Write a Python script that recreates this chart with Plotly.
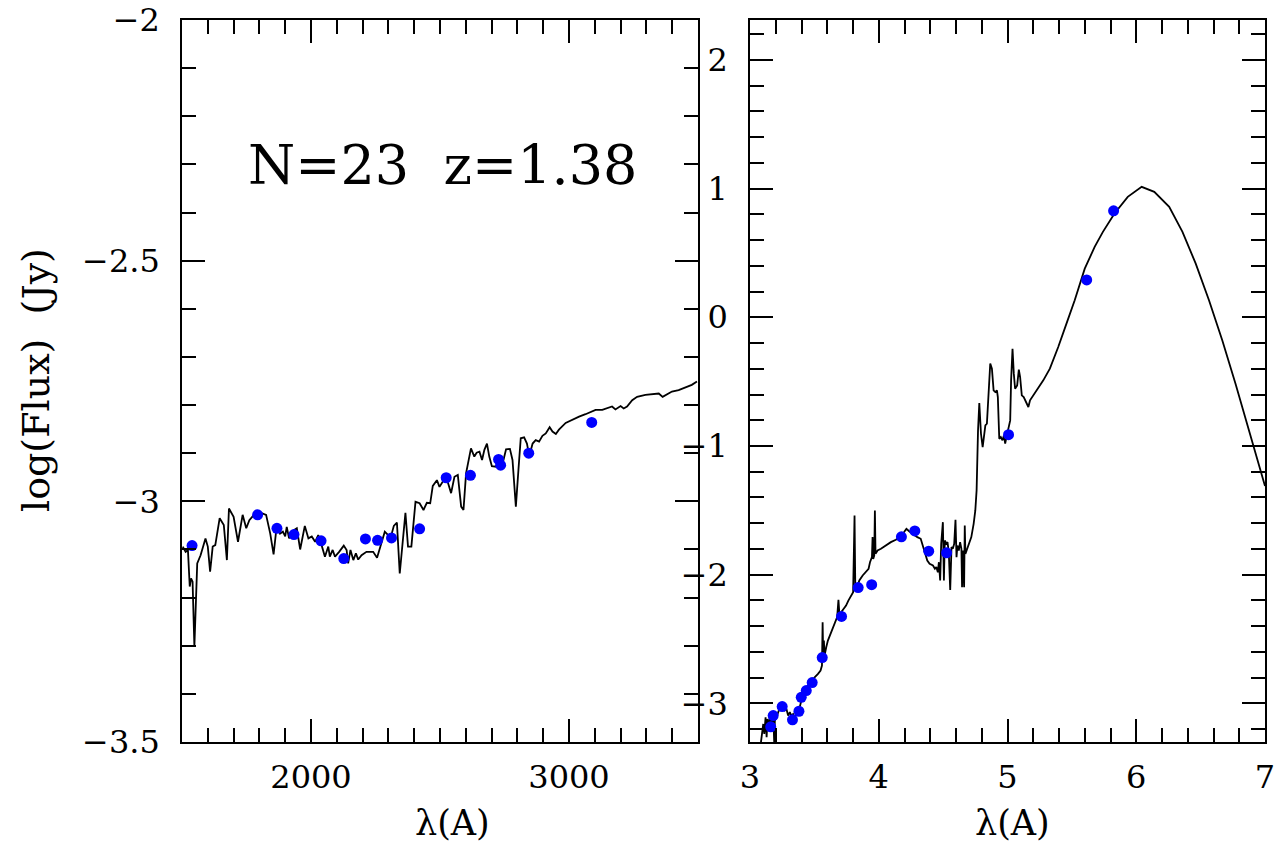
import plotly.graph_objects as go

# ---- left panel: observed-frame wavelength (Angstrom) vs log flux ----
left_model = [
    (1503, -3.094), (1514, -3.105), (1523, -3.101), (1530, -3.177), (1535, -3.160),
    (1541, -3.167), (1548, -3.302), (1559, -3.129), (1572, -3.112), (1591, -3.077),
    (1600, -3.094), (1609, -3.146), (1619, -3.094), (1629, -3.091), (1646, -3.035),
    (1662, -3.049), (1674, -3.122), (1682, -3.015), (1700, -3.032), (1717, -3.084),
    (1735, -3.028), (1749, -3.056), (1761, -3.039), (1784, -3.025), (1797, -3.022),
    (1826, -3.028), (1842, -3.067), (1855, -3.110), (1868, -3.047), (1880, -3.067),
    (1891, -3.063), (1900, -3.073), (1906, -3.053), (1915, -3.077), (1925, -3.063),
    (1945, -3.056), (1958, -3.100), (1976, -3.051), (1990, -3.077), (2003, -3.073),
    (2016, -3.084), (2028, -3.070), (2041, -3.091), (2054, -3.115), (2067, -3.094),
    (2073, -3.115), (2084, -3.101), (2093, -3.115), (2109, -3.105), (2127, -3.092),
    (2138, -3.101), (2144, -3.129), (2153, -3.101), (2164, -3.122), (2174, -3.108),
    (2183, -3.121), (2196, -3.112), (2215, -3.105), (2241, -3.105), (2256, -3.117),
    (2269, -3.094), (2286, -3.063), (2299, -3.070), (2308, -3.077), (2321, -3.051),
    (2333, -3.044), (2344, -3.150), (2357, -3.077), (2366, -3.024), (2376, -3.094),
    (2389, -3.094), (2405, -3.001), (2421, -3.004), (2436, -3.018), (2449, -3.003),
    (2462, -3.004), (2472, -2.968), (2488, -2.956), (2498, -2.970), (2511, -2.959),
    (2524, -2.949), (2543, -2.983), (2556, -2.949), (2569, -2.945), (2582, -3.011),
    (2591, -3.018), (2601, -2.942), (2620, -2.890), (2633, -2.907), (2642, -2.899),
    (2653, -2.897), (2663, -2.914), (2672, -2.893), (2682, -2.880), (2691, -2.907),
    (2701, -2.927), (2717, -2.928), (2730, -2.907), (2743, -2.921), (2756, -2.892),
    (2771, -2.891), (2781, -2.914), (2794, -3.011), (2804, -2.935), (2813, -2.869),
    (2826, -2.867), (2837, -2.880), (2846, -2.906), (2859, -2.880), (2871, -2.873),
    (2884, -2.876), (2897, -2.864), (2910, -2.859), (2925, -2.846), (2936, -2.855),
    (2949, -2.860), (2961, -2.851), (2987, -2.837), (3013, -2.830), (3039, -2.824),
    (3064, -2.819), (3090, -2.814), (3103, -2.810), (3129, -2.810), (3148, -2.807),
    (3167, -2.803), (3180, -2.809), (3200, -2.802), (3212, -2.807), (3225, -2.803),
    (3245, -2.790), (3264, -2.783), (3296, -2.779), (3335, -2.776), (3348, -2.776),
    (3363, -2.783), (3380, -2.777), (3399, -2.772), (3425, -2.769), (3451, -2.763),
    (3476, -2.758), (3496, -2.751),
]
left_phot_wave = [1539, 1793, 1868, 1934, 2039, 2127, 2211, 2258, 2312, 2421,
                  2524, 2618, 2727, 2735, 2844, 3088]
left_phot_flux = [-3.092, -3.028, -3.056, -3.069, -3.082, -3.119, -3.078, -3.081,
                  -3.076, -3.057, -2.951, -2.946, -2.913, -2.925, -2.900, -2.836]

# ---- right panel: log wavelength vs log flux, full SED ----
right_model = [
    (3.085, -3.302), (3.103, -3.160), (3.111, -3.237), (3.121, -3.108), (3.129, -3.263),
    (3.136, -3.121), (3.147, -3.212), (3.154, -3.095), (3.167, -3.160), (3.180, -3.082),
    (3.188, -3.302), (3.193, -3.134), (3.206, -3.108), (3.219, -3.069), (3.232, -3.030),
    (3.245, -3.017), (3.257, -3.043), (3.270, -3.056), (3.283, -3.043), (3.296, -3.095),
    (3.309, -3.069), (3.322, -3.095), (3.335, -3.082), (3.347, -3.108), (3.360, -3.082),
    (3.373, -3.069), (3.386, -3.030), (3.399, -2.978), (3.412, -2.952), (3.420, -2.913),
    (3.430, -2.888), (3.440, -2.926), (3.451, -2.862), (3.463, -2.849), (3.476, -2.828),
    (3.502, -2.797), (3.528, -2.771), (3.548, -2.745), (3.559, -2.706), (3.564, -2.369),
    (3.569, -2.667), (3.574, -2.512), (3.579, -2.628), (3.584, -2.589), (3.592, -2.564),
    (3.605, -2.512), (3.625, -2.460), (3.644, -2.408), (3.662, -2.369), (3.677, -2.330),
    (3.687, -2.195), (3.695, -2.317), (3.708, -2.291), (3.728, -2.265), (3.746, -2.240),
    (3.764, -2.201), (3.785, -2.162), (3.801, -2.136), (3.812, -1.540), (3.818, -2.123),
    (3.837, -2.084), (3.849, -2.045), (3.875, -2.006), (3.901, -1.980), (3.921, -1.954),
    (3.932, -1.903), (3.947, -1.864), (3.952, -1.708), (3.957, -1.877), (3.965, -1.851),
    (3.970, -1.501), (3.975, -1.838), (3.991, -1.812), (4.017, -1.799), (4.055, -1.773),
    (4.094, -1.747), (4.133, -1.729), (4.171, -1.703), (4.197, -1.669), (4.215, -1.643),
    (4.236, -1.662), (4.261, -1.682), (4.300, -1.708), (4.326, -1.721), (4.338, -1.760),
    (4.351, -1.812), (4.364, -1.851), (4.377, -1.890), (4.395, -1.916), (4.421, -1.929),
    (4.436, -1.954), (4.447, -1.941), (4.459, -1.980), (4.467, -1.903), (4.477, -2.045),
    (4.485, -1.760), (4.498, -1.592), (4.506, -2.045), (4.513, -1.734), (4.524, -1.760),
    (4.534, -1.747), (4.544, -1.825), (4.555, -2.118), (4.565, -1.786), (4.575, -1.799),
    (4.586, -1.760), (4.596, -1.573), (4.604, -1.864), (4.611, -1.773), (4.622, -1.812),
    (4.632, -1.747), (4.642, -1.799), (4.647, -2.097), (4.652, -1.812), (4.663, -2.097),
    (4.668, -1.618), (4.673, -1.838), (4.686, -1.799), (4.699, -1.773), (4.719, -1.708),
    (4.737, -1.605), (4.750, -1.501), (4.760, -1.345), (4.763, -1.099), (4.771, -0.879),
    (4.781, -0.666), (4.794, -0.905), (4.807, -1.008), (4.817, -0.931), (4.828, -0.840),
    (4.840, -0.827), (4.853, -0.568), (4.866, -0.360), (4.879, -0.399), (4.892, -0.568),
    (4.905, -0.581), (4.918, -0.568), (4.925, -0.620), (4.930, -0.853), (4.936, -0.944),
    (4.948, -0.931), (4.961, -0.956), (4.972, -0.918), (4.982, -0.982), (4.992, -0.931),
    (5.008, -0.853), (5.021, -0.801), (5.028, -0.490), (5.039, -0.244), (5.049, -0.438),
    (5.059, -0.555), (5.075, -0.529), (5.088, -0.407), (5.098, -0.464), (5.111, -0.607),
    (5.126, -0.620), (5.142, -0.658), (5.162, -0.697), (5.175, -0.645), (5.201, -0.607),
    (5.239, -0.555), (5.278, -0.490), (5.329, -0.399), (5.394, -0.231), (5.458, -0.049),
    (5.522, 0.132), (5.600, 0.378), (5.677, 0.547), (5.741, 0.664), (5.831, 0.806),
    (5.934, 0.936), (6.042, 1.014), (6.140, 0.975), (6.256, 0.858), (6.359, 0.664),
    (6.462, 0.417), (6.565, 0.132), (6.668, -0.179), (6.771, -0.516), (6.874, -0.879),
    (7.000, -1.310),
]
right_phot_logwave = [3.161, 3.180, 3.250, 3.330, 3.380, 3.398, 3.437, 3.483, 3.561,
                      3.711, 3.840, 3.945, 4.176, 4.280, 4.388, 4.527, 5.008, 5.615, 5.824]
right_phot_flux = [-3.182, -3.095, -3.025, -3.128, -3.061, -2.953, -2.900, -2.838, -2.644,
                   -2.324, -2.100, -2.078, -1.706, -1.660, -1.817, -1.830, -0.912, 0.290, 0.827]

annotation_text = "N=23  z=1.38"
x_title = "λ(A)"
y_title = "log(Flux)  (Jy)"

FONT = "DejaVu Serif"
W, H = 1282, 847
ML, MR, MT, MB = 0, 0, 20, 105

fig = go.Figure()

lw, lf = zip(*left_model)
rw, rf = zip(*right_model)

line_style = dict(color="black", width=1.8)
dot_style = dict(color="#0000ff", size=11, line=dict(width=0))

fig.add_trace(go.Scatter(x=lw, y=lf, mode="lines", line=line_style,
                         xaxis="x", yaxis="y", showlegend=False, hoverinfo="skip"))
fig.add_trace(go.Scatter(x=left_phot_wave, y=left_phot_flux, mode="markers",
                         marker=dot_style, xaxis="x", yaxis="y", showlegend=False))
fig.add_trace(go.Scatter(x=rw, y=rf, mode="lines", line=line_style,
                         xaxis="x2", yaxis="y2", showlegend=False, hoverinfo="skip"))
fig.add_trace(go.Scatter(x=right_phot_logwave, y=right_phot_flux, mode="markers",
                         marker=dot_style, xaxis="x2", yaxis="y2", showlegend=False))


def axis(domain, rng, dtick, tick0, minor_dtick, anchor, standoff):
    return dict(
        domain=domain, range=rng, anchor=anchor,
        showline=True, linecolor="black", linewidth=1.6, mirror="ticks",
        ticks="inside", ticklen=23, tickwidth=1.5, tickcolor="black",
        dtick=dtick, tick0=tick0,
        minor=dict(ticks="inside", ticklen=14, tickwidth=1.5, tickcolor="black",
                   dtick=minor_dtick, tick0=tick0, showgrid=False),
        showgrid=False, zeroline=False, automargin=False,
        ticklabelstandoff=standoff,
        tickfont=dict(family=FONT, size=32, color="black"),
    )


plot_w = W - ML - MR
left_dom = [182 / plot_w, 698 / plot_w]
right_dom = [750 / plot_w, 1265 / plot_w]

fig.update_layout(
    width=W, height=H,
    margin=dict(l=ML, r=MR, t=MT, b=MB, pad=0),
    paper_bgcolor="white", plot_bgcolor="white",
    xaxis=axis(left_dom, [1500, 3500], 1000, 0, 100, "y", 6),
    yaxis=axis([0, 1], [-3.5, -2.0], 0.5, -3.5, 0.1, "x", 14),
    xaxis2=axis(right_dom, [3, 7], 1, 0, 0.2, "y2", 6),
    yaxis2=axis([0, 1], [-3.3, 2.31], 1, 0, 0.2, "x2", 14),
)

plot_h = H - MT - MB
title_y = -(823 - (H - MB)) / plot_h
annotations = [
    dict(text=annotation_text, xref="x domain", yref="y domain",
         x=0.504, y=0.799, xanchor="center", yanchor="middle", showarrow=False,
         font=dict(family=FONT, size=54, color="black")),
    dict(text=x_title, xref="paper", yref="paper",
         x=452 / plot_w, y=title_y, xanchor="center", yanchor="middle",
         showarrow=False, font=dict(family=FONT, size=35, color="black")),
    dict(text=x_title, xref="paper", yref="paper",
         x=1012 / plot_w, y=title_y, xanchor="center", yanchor="middle",
         showarrow=False, font=dict(family=FONT, size=35, color="black")),
    dict(text=y_title, xref="paper", yref="paper", textangle=-90,
         x=36 / plot_w, y=((H - MB) - 380) / plot_h, xanchor="center", yanchor="middle",
         showarrow=False, font=dict(family=FONT, size=38, color="black")),
]
fig.update_layout(annotations=annotations)

fig.write_html("out.html")
